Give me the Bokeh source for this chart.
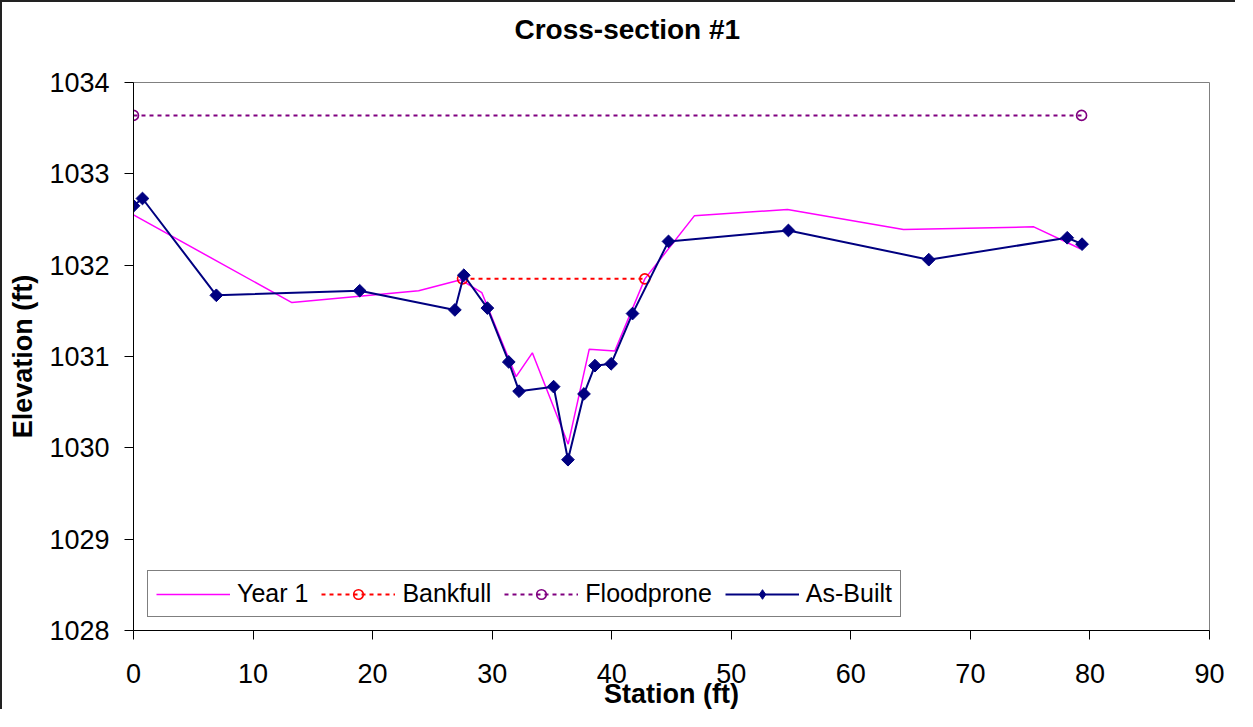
import numpy as np
from bokeh.plotting import figure
from bokeh.models import Range1d, FixedTicker, Legend, LegendItem, Title
from bokeh.embed import file_html
from bokeh.resources import INLINE

# ---- data ----
year1_station = [0.0, 13.25, 23.85, 27.38, 29.13, 32.0, 33.36, 36.36, 38.12, 40.26, 42.77, 46.91, 54.7, 64.4, 75.3, 79.2]
year1_elev = [1032.55, 1031.59, 1031.72, 1031.84, 1031.70, 1030.78, 1031.04, 1030.04, 1031.08, 1031.06, 1031.85, 1032.54, 1032.61, 1032.39, 1032.42, 1032.18]

asbuilt_station = [0.0, 0.75, 6.93, 18.92, 26.88, 27.63, 29.6, 31.39, 32.25, 35.14, 36.34, 37.68, 38.6, 39.95, 41.74, 44.75, 54.78, 66.52, 78.1, 79.34]
asbuilt_elev = [1032.65, 1032.73, 1031.67, 1031.72, 1031.51, 1031.89, 1031.53, 1030.94, 1030.62, 1030.67, 1029.87, 1030.59, 1030.90, 1030.92, 1031.47, 1032.26, 1032.38, 1032.06, 1032.30, 1032.23]

bankfull_station = [27.52, 42.77]
bankfull_elev = [1031.85, 1031.85]

floodprone_station = [0.0, 79.3]
floodprone_elev = [1033.64, 1033.64]

x_ticks = [0, 10, 20, 30, 40, 50, 60, 70, 80, 90]
y_ticks = [1028, 1029, 1030, 1031, 1032, 1033, 1034]

chart_title = "Cross-section #1"
x_title = "Station (ft)"
y_title = "Elevation (ft)"

FONT = "Liberation Sans"
NAVY = "#000080"

p = figure(
    width=1235, height=709,
    output_backend="svg", toolbar_location=None,
    x_range=Range1d(0, 90), y_range=Range1d(1028, 1034),
    min_border_left=131, min_border_right=28, min_border_top=80, min_border_bottom=79,
    styles={"border-top": "2px solid #222222", "border-left": "2px solid #222222"},
)
p.background_fill_color = "white"
p.border_fill_color = "white"
p.outline_line_color = "#808080"
p.outline_line_width = 1
p.xgrid.visible = False
p.ygrid.visible = False
p.title.text = ""

# spacer between frame and chart title, then the title itself (outermost)
spacer = Title(text=" ", text_font_size="1px", standoff=35)
p.add_layout(spacer, "above")
title = Title(
    text=chart_title, align="left", offset=381, standoff=0,
    text_font=FONT, text_font_size="28px", text_font_style="bold", text_color="black",
)
p.add_layout(title, "above")

for ax in (p.xaxis[0], p.yaxis[0]):
    ax.axis_line_color = "black"
    ax.axis_line_width = 1
    ax.major_tick_line_color = "black"
    ax.major_tick_out = 9
    ax.major_tick_in = 0
    ax.minor_tick_out = 0
    ax.minor_tick_in = 0
    ax.major_label_text_font = FONT
    ax.major_label_text_font_size = "27px"
    ax.major_label_text_color = "black"
    ax.axis_label_text_font = FONT
    ax.axis_label_text_font_size = "27px"
    ax.axis_label_text_font_style = "bold"
    ax.axis_label_text_color = "black"

p.xaxis.ticker = FixedTicker(ticks=x_ticks)
p.yaxis.ticker = FixedTicker(ticks=y_ticks)
p.xaxis.major_label_standoff = 24
p.yaxis.major_label_standoff = 15
p.xaxis.axis_label = x_title
p.yaxis.axis_label = y_title
p.xaxis.axis_label_standoff = -7
p.yaxis.axis_label_standoff = 8

# series
r_y1 = p.line(year1_station, year1_elev, line_color="#FF00FF", line_width=1.5)

r_bf_l = p.line(bankfull_station, bankfull_elev, line_color="#FF0000", line_width=2, line_dash="4 4")
r_bf_m = p.scatter(bankfull_station, bankfull_elev, marker="circle", size=10,
                   fill_color=None, line_color="#FF0000", line_width=1.6)

r_fp_l = p.line(floodprone_station, floodprone_elev, line_color="#800080", line_width=2, line_dash="4 4")
r_fp_m = p.scatter(floodprone_station, floodprone_elev, marker="circle", size=10,
                   fill_color=None, line_color="#800080", line_width=1.6)

r_ab_l = p.line(asbuilt_station, asbuilt_elev, line_color=NAVY, line_width=2)
r_ab_m = p.scatter(asbuilt_station, asbuilt_elev, marker="square", angle=np.pi / 4, size=9,
                   fill_color=NAVY, line_color=NAVY, line_width=1)
# hidden diamond renderer, used only as the legend swatch
r_ab_key = p.scatter(asbuilt_station, asbuilt_elev, marker="diamond", size=12,
                     fill_color=NAVY, line_color=NAVY, visible=False)

legend = Legend(
    items=[
        LegendItem(label="Year 1", renderers=[r_y1]),
        LegendItem(label="Bankfull", renderers=[r_bf_l, r_bf_m]),
        LegendItem(label="Floodprone", renderers=[r_fp_l, r_fp_m]),
        LegendItem(label="As-Built", renderers=[r_ab_l, r_ab_key]),
    ],
    orientation="horizontal",
    location=(14, 13),
    glyph_width=74, glyph_height=24,
    label_standoff=7, spacing=13, padding=8, margin=0,
    label_text_font=FONT, label_text_font_size="25px", label_text_color="black",
    border_line_color="black", border_line_width=1,
    background_fill_color="white", background_fill_alpha=1.0,
)
p.add_layout(legend)

open("out.html", "w").write(file_html(p, INLINE))
